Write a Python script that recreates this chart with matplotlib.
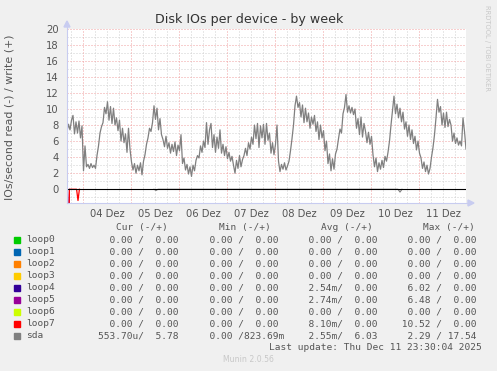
import matplotlib
matplotlib.use("Agg")
import matplotlib.pyplot as plt
from matplotlib.patches import Rectangle, Polygon
from matplotlib.lines import Line2D
import numpy as np

W, H = 497, 371

title = "Disk IOs per device - by week"
ylabel = "IOs/second read (-) / write (+)"
day_labels = ["04 Dez", "05 Dez", "06 Dez", "07 Dez", "08 Dez", "09 Dez", "10 Dez", "11 Dez"]

# time axis: hours since 04 Dez 00:00
t_start = -8.0
t_step = 0.75
t_end = 191.5

sda_write = [
    7.2, 8.1, 7.4, 8.6, 9.2, 6.9, 8.4, 7.0, 8.5, 6.4, 7.9, 2.3,
    5.4, 2.8, 3.1, 2.6, 3.2, 2.7, 3.0, 2.6, 4.2, 5.4, 7.0, 7.8,
    8.3, 10.2, 9.4, 10.9, 8.6, 10.3, 8.2, 10.1, 8.0, 8.9, 7.3, 8.6,
    6.0, 7.6, 5.8, 6.9, 4.6, 7.6, 5.0, 3.4, 2.4, 3.2, 2.0, 3.0,
    2.3, 3.3, 1.8, 3.5, 4.3, 5.6, 6.4, 7.6, 7.2, 8.3, 10.4, 8.7,
    10.1, 7.4, 8.8, 6.8, 6.2, 5.3, 6.6, 5.1, 5.8, 4.5, 5.6, 4.7,
    5.9, 4.2, 5.5, 4.8, 6.8, 3.2, 3.9, 2.4, 3.1, 1.9, 2.8, 1.6,
    3.0, 2.3, 3.6, 4.2, 3.9, 5.4, 4.6, 6.0, 5.2, 8.3, 5.6, 7.4,
    8.2, 5.2, 6.8, 4.6, 6.5, 5.1, 7.4, 4.5, 5.6, 4.2, 5.3, 3.8,
    4.6, 3.5, 4.1, 3.0, 2.0, 3.6, 2.6, 4.2, 2.8, 3.7, 4.2, 5.1,
    4.2, 5.8, 5.0, 6.5, 5.6, 8.0, 6.3, 8.2, 5.2, 7.9, 6.4, 8.1,
    5.6, 8.2, 6.1, 7.0, 4.5, 5.8, 4.3, 5.6, 8.0, 3.5, 2.2, 3.1,
    2.5, 3.3, 2.4, 2.9, 3.5, 4.8, 6.3, 8.0, 10.4, 11.6, 10.2, 10.8,
    9.0, 10.5, 8.3, 10.1, 8.4, 9.5, 7.6, 9.0, 8.1, 9.2, 7.2, 8.4,
    6.2, 8.0, 6.4, 7.3, 4.8, 6.0, 3.2, 4.4, 2.3, 3.8, 2.5, 4.4,
    5.0, 6.3, 7.5, 7.0, 9.4, 10.2, 11.8, 9.6, 10.4, 9.5, 10.2, 9.3,
    10.0, 7.6, 8.8, 6.8, 9.0, 6.5, 8.2, 7.2, 5.8, 7.1, 5.6, 6.6,
    4.3, 2.8, 3.9, 2.2, 3.3, 2.5, 3.6, 2.7, 4.1, 3.5, 4.6, 6.0,
    8.0, 9.8, 11.6, 9.4, 10.6, 8.9, 10.1, 8.4, 9.6, 7.5, 8.4, 6.6,
    8.0, 6.2, 7.4, 5.7, 6.6, 4.9, 6.0, 4.5, 3.9, 2.6, 3.4, 2.2,
    3.0, 1.9, 2.6, 4.0, 5.2, 6.8, 8.9, 11.2, 9.6, 10.3, 8.0, 9.5,
    7.7, 9.6, 7.8, 8.7, 8.0, 6.0, 7.0, 5.7, 6.4, 5.5, 6.0, 5.4,
    8.9, 7.2, 5.0,
]

# read side (drawn negative)
loop4_read_t = [-8.0, -7.4, -6.8]
loop4_read = [0.0, 6.02, 0.0]
loop5_read_t = [-8.0, -7.4, -6.8]
loop5_read = [0.0, 6.48, 0.0]
loop7_read_t = [-8.0, -7.4, -6.8, -3.2, -2.5, -1.8]
loop7_read = [0.0, 10.52, 0.0, 0.0, 1.4, 0.0]
sda_read_t = [35.5, 36.5, 37.5, 157.5, 158.5, 159.5]
sda_read = [0.0, 0.15, 0.0, 0.0, 0.35, 0.0]

names = ["loop0", "loop1", "loop2", "loop3", "loop4", "loop5", "loop6", "loop7", "sda"]
colors = ["#00CC00", "#0066B3", "#FF8000", "#FFCC00", "#330099", "#990099", "#CCFF00", "#FF0000", "#808080"]
col_headers = ["Cur (-/+)", "Min (-/+)", "Avg (-/+)", "Max (-/+)"]
cur_vals = ["  0.00 /  0.00 "] * 8 + ["553.70u/  5.78 "]
min_vals = ["  0.00 /  0.00 "] * 8 + ["  0.00 /823.69m"]
avg_vals = ["  0.00 /  0.00 "] * 4 + ["  2.54m/  0.00 ", "  2.74m/  0.00 ", "  0.00 /  0.00 ",
                                      "  8.10m/  0.00 ", "  2.55m/  6.03 "]
max_vals = ["  0.00 /  0.00 "] * 4 + ["  6.02 /  0.00 ", "  6.48 /  0.00 ", "  0.00 /  0.00 ",
                                      " 10.52 /  0.00 ", "  2.29 / 17.54 "]
last_update = "Last update: Thu Dec 11 23:30:04 2025"
footer = "Munin 2.0.56"
side_text = "RRDTOOL / TOBI OETIKER"

ymin, ymax = -1.71, 20.0

fig = plt.figure(figsize=(W / 100, H / 100), dpi=100, facecolor="#F0F0F0")


def fx(px):
    return px / W


def fy(py):
    return 1 - py / H


ax = fig.add_axes([fx(67), fy(203), fx(466) - fx(67), fy(28.7) - fy(203)], facecolor="white")
ax.set_xlim(t_start, t_end)
ax.set_ylim(ymin, ymax)
for s in ax.spines.values():
    s.set_visible(False)

# grid
minor_col = "#D0D0D0"
major_col = "#F0A0A0"
dots = (0, (1, 2))
for yv in np.arange(-1, 20, 2):
    ax.axhline(yv, color=minor_col, lw=0.72, ls=dots, zorder=1)
for xv in np.arange(-6, t_end, 6):
    if xv % 24 != 0:
        ax.axvline(xv, color=minor_col, lw=0.72, ls=dots, zorder=1)
for yv in np.arange(0, 21, 2):
    ax.axhline(yv, color=major_col, lw=0.72, ls=dots, zorder=1.5)
for xv in np.arange(0, t_end, 24):
    ax.axvline(xv, color=major_col, lw=0.72, ls=dots, zorder=1.5)

ax.set_yticks(np.arange(0, 21, 2))
ax.set_yticklabels([str(v) for v in range(0, 21, 2)])
ax.set_xticks(np.arange(12, 24 * len(day_labels), 24))
ax.set_xticklabels(day_labels)
ax.tick_params(axis="both", length=0, labelsize=7.2, labelcolor="#555555")
ax.tick_params(axis="y", pad=6)
ax.tick_params(axis="x", pad=4)

# data
t = t_start + t_step * np.arange(len(sda_write))
ax.plot(t, sda_write, color="#808080", lw=0.9, zorder=3)
ax.plot(loop4_read_t, -np.array(loop4_read), color="#330099", lw=0.6, zorder=3)
ax.plot(loop5_read_t, -np.array(loop5_read), color="#990099", lw=0.6, zorder=3)
ax.plot(loop7_read_t, -np.array(loop7_read), color="#FF0000", lw=0.9, zorder=3.2)
ax.plot(sda_read_t, -np.array(sda_read), color="#808080", lw=0.8, zorder=3)
ax.axhline(0, color="black", lw=0.8, zorder=4)

# axis lines with arrows (rrdtool style)
axis_col = "#C8CCF0"
fig.add_artist(Line2D([fx(67), fx(67)], [fy(203), fy(26)], color=axis_col, lw=0.8))
fig.add_artist(Line2D([fx(67), fx(468)], [fy(203), fy(203)], color=axis_col, lw=0.8))
fig.add_artist(Polygon([[fx(64), fy(27)], [fx(70), fy(27)], [fx(67), fy(21)]], closed=True,
                       color=axis_col, transform=fig.transFigure))
fig.add_artist(Polygon([[fx(468), fy(200)], [fx(468), fy(206)], [fx(474), fy(203)]], closed=True,
                       color=axis_col, transform=fig.transFigure))

# texts
fig.text(fx(249), fy(19.5), title, ha="center", va="center", fontsize=9.1, color="#333333")
fig.text(fx(10), fy(117), ylabel, ha="center", va="center", rotation=90, fontsize=7.9,
         color="#555555")
fig.text(fx(487.5), fy(5), side_text, ha="center", va="top", rotation=270, fontsize=4.9,
         color="#C8C8C8")

mono = "DejaVu Sans Mono"
fs = 6.8
tc = "#555555"
head_x = [116, 219, 321, 423]
for hx, htxt in zip(head_x, col_headers):
    fig.text(fx(hx), fy(227.7), htxt, ha="left", va="center", family=mono, fontsize=fs, color=tc)

cell_x = [98, 197.6, 296.6, 395.9]
for i, name in enumerate(names):
    yy = 240 + 12 * i
    fig.add_artist(Rectangle((fx(14), fy(yy + 3)), fx(6), fy(0) - fy(6), color=colors[i],
                             transform=fig.transFigure))
    fig.text(fx(26.5), fy(yy), name, ha="left", va="center", family=mono, fontsize=fs, color=tc)
    for cx, col in zip(cell_x, [cur_vals, min_vals, avg_vals, max_vals]):
        fig.text(fx(cx), fy(yy), col[i], ha="left", va="center", family=mono, fontsize=fs, color=tc)

fig.text(fx(482), fy(347.7), last_update, ha="right", va="center", family=mono, fontsize=fs,
         color=tc)
fig.text(fx(248), fy(360), footer, ha="center", va="center", fontsize=5.6, color="#C8C8C8")

fig.savefig("out.png", dpi=100, facecolor=fig.get_facecolor())
